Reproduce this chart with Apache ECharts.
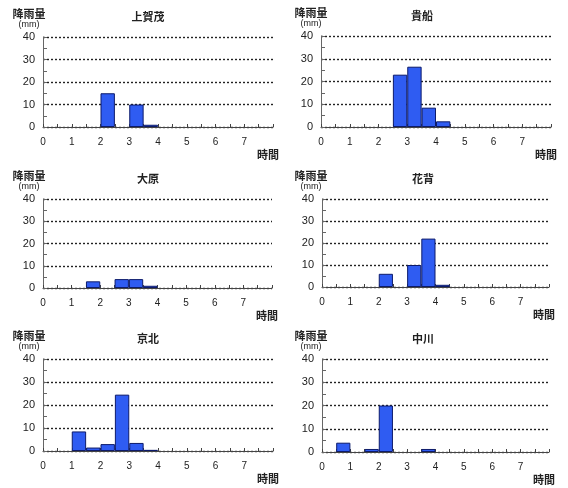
<!DOCTYPE html>
<html>
<head>
<meta charset="utf-8">
<script src="https://cdn.jsdelivr.net/npm/echarts@6/dist/echarts.min.js"></script>
<style>
  html, body { margin: 0; padding: 0; background: #fff; }
  #chart { width: 568px; height: 488px; }
</style>
</head>
<body>
<div id="chart"></div>
<script>
// Half-hour bins (start of each bin, in hours)
const binStarts = [0, 0.5, 1, 1.5, 2, 2.5, 3, 3.5, 4, 4.5, 5, 5.5, 6, 6.5, 7, 7.5];
const hourLabels = ['0', '1', '2', '3', '4', '5', '6', '7'];
const rainTicks = ['0', '10', '20', '30', '40'];

const stations = ['上賀茂', '貴船', '大原', '花背', '京北', '中川'];

// Rainfall per half hour (mm)
const kamigamo = [0, 0, 0, 0, 15, 0, 10, 1, 0, 0, 0, 0, 0, 0, 0, 0];
const kibune    = [0, 0, 0, 0, 0, 23, 26.5, 8.5, 2.5, 0, 0, 0, 0, 0, 0, 0];
const ohara     = [0, 0, 0, 3, 0, 4, 4, 1, 0, 0, 0, 0, 0, 0, 0, 0];
const hanase    = [0, 0, 0, 0, 6, 0, 10, 22, 1, 0, 0, 0, 0, 0, 0, 0];
const keihoku   = [0, 0, 8.5, 1.5, 3, 24.5, 3.5, 0.5, 0, 0, 0, 0, 0, 0, 0, 0];
const nakagawa  = [0, 4, 0, 1.3, 20, 0, 0, 1.3, 0, 0, 0, 0, 0, 0, 0, 0];

const rainfall = [kamigamo, kibune, ohara, hanase, keihoku, nakagawa];

// Panel boxes: plot area of each small chart
const panels = [
  { left: 43,  top: 37,  width: 230, height: 90, col: 0 },
  { left: 321, top: 36,  width: 230, height: 91, col: 1 },
  { left: 43,  top: 199, width: 229, height: 89, col: 0 },
  { left: 322, top: 199, width: 227, height: 88, col: 1 },
  { left: 43,  top: 359, width: 230, height: 92, col: 0 },
  { left: 322, top: 359, width: 227, height: 93, col: 1 }
];

const textColor = '#222';
const numFont = '"Liberation Sans", Arial, "Noto Sans CJK JP", sans-serif';
const jpFont = '"Noto Sans CJK JP", "Noto Sans", sans-serif';

const grids = [], xAxes = [], yAxes = [], series = [], graphics = [];

panels.forEach((p, i) => {
  grids.push({ left: p.left, top: p.top, width: p.width, height: p.height });

  xAxes.push({
    type: 'value', gridIndex: i, min: 0, max: 8, interval: 0.5,
    axisLine: { show: true, lineStyle: { color: '#444', width: 1 } },
    axisTick: { show: true, inside: true, length: 3, lineStyle: { color: '#444' } },
    axisLabel: {
      margin: 10, color: textColor, fontSize: 10, fontFamily: numFont,
      formatter: v => (hourLabels.indexOf(String(v)) >= 0 ? String(v) : '')
    },
    splitLine: { show: false }
  });

  yAxes.push({
    type: 'value', gridIndex: i, min: 0, max: 40, interval: 10,
    axisLine: { show: true, lineStyle: { color: '#666', width: 1 } },
    axisTick: { show: true, inside: true, length: 4, lineStyle: { color: '#666' } },
    minorTick: { show: true, splitNumber: 2, length: 4, lineStyle: { color: '#666' } },
    axisLabel: {
      margin: 8, color: textColor, fontSize: 11, fontFamily: numFont,
      formatter: v => (rainTicks.indexOf(String(v)) >= 0 ? String(v) : '')
    },
    splitLine: { show: true, lineStyle: { color: '#222', width: 1.4, type: [2, 2] } }
  });

  series.push({
    type: 'bar', xAxisIndex: i, yAxisIndex: i,
    barCategoryGap: '0%', barGap: '0%',
    itemStyle: { color: '#2f5cf2', borderColor: '#0d1b6b', borderWidth: 1 },
    data: binStarts.map((s, k) => [s + 0.25, rainfall[i][k] === 0 ? '-' : rainfall[i][k]]),
    silent: true
  });

  // Panel texts: station name, y-axis unit, x-axis unit
  const cx = p.left + (p.col === 0 ? 105 : 101);
  const yLabelX = p.col === 0 ? 29 : 311;
  graphics.push({
    type: 'text', x: cx, y: p.top - 20,
    style: { text: stations[i], fill: textColor, font: 'bold 11px ' + jpFont, textAlign: 'center', textVerticalAlign: 'middle' }
  });
  graphics.push({
    type: 'text', x: yLabelX, y: p.top - 23,
    style: { text: '降雨量', fill: textColor, font: 'bold 11px ' + jpFont, textAlign: 'center', textVerticalAlign: 'middle' }
  });
  graphics.push({
    type: 'text', x: yLabelX, y: p.top - 12,
    style: { text: '(mm)', fill: textColor, font: '9px ' + numFont, textAlign: 'center', textVerticalAlign: 'middle' }
  });
  graphics.push({
    type: 'text', x: p.left + p.width - 5, y: p.top + p.height + 28,
    style: { text: '時間', fill: textColor, font: 'bold 11px ' + jpFont, textAlign: 'center', textVerticalAlign: 'middle' }
  });
});

const chart = echarts.init(document.getElementById('chart'), null, { renderer: 'canvas' });
chart.setOption({
  backgroundColor: '#fff',
  animation: false,
  grid: grids,
  xAxis: xAxes,
  yAxis: yAxes,
  series: series,
  graphic: graphics
});
</script>
</body>
</html>
